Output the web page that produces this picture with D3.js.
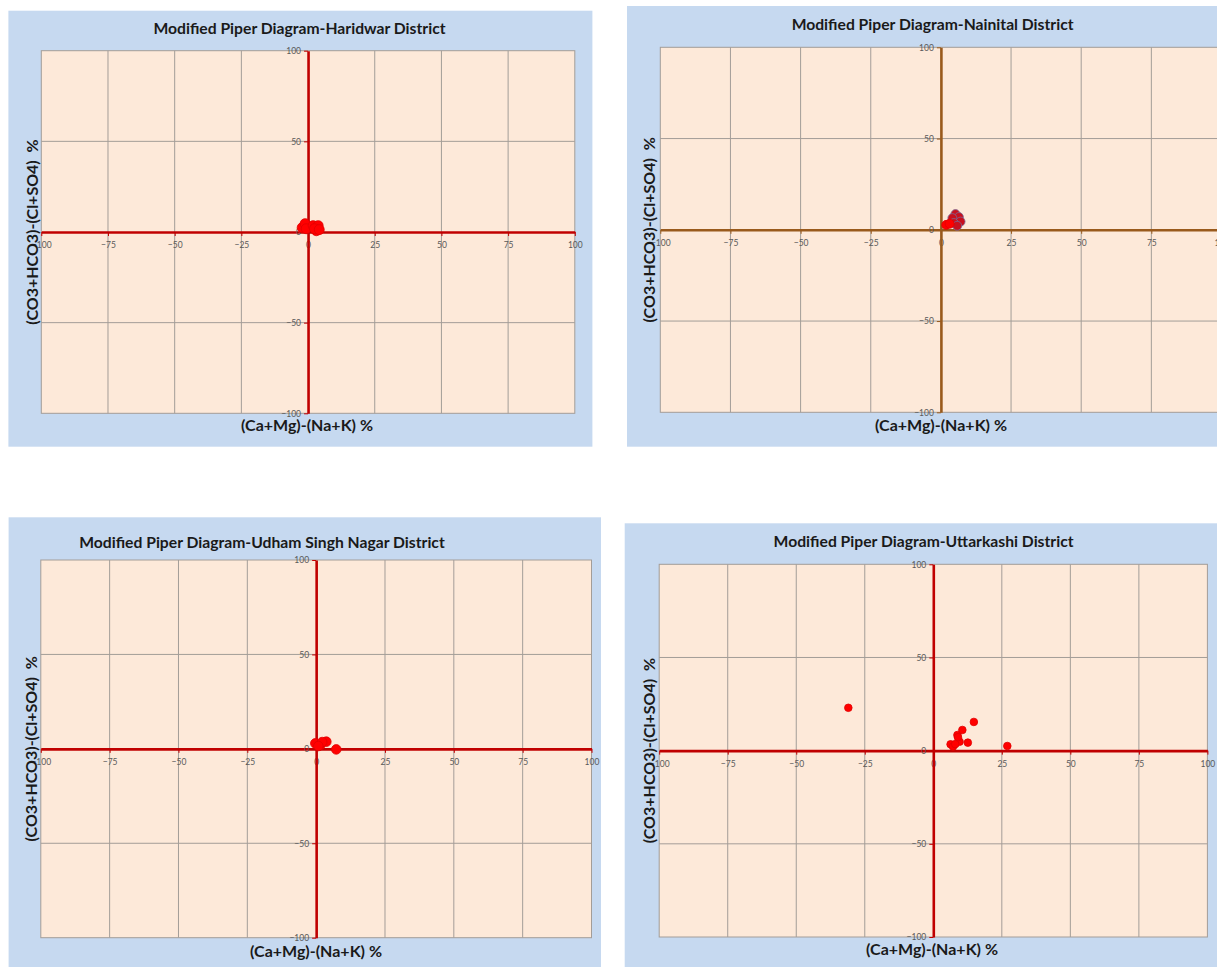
<!DOCTYPE html>
<html>
<head>
<meta charset="utf-8">
<script src="https://cdn.jsdelivr.net/npm/d3@7"></script>
<style>
  body { margin: 0; background: #fff; }
  svg { display: block; }
</style>
</head>
<body>
<div class="canva"></div>
<script>
// tick values shared by all four diagrams
const xTicks = [-100, -75, -50, -25, 0, 25, 50, 75, 100]
const yTicks = [-100, -50, 0, 50, 100]

// sample values, (Ca+Mg)-(Na+K) and (CO3+HCO3)-(Cl+SO4)
const haridwarX = [-2.2, -1.1, -0.7, 1.9, 3.8, 3.1, 2.4, 4.2]
const haridwarY = [2.4, 4.6, 1.8, 3.5, 3.5, 0.7, 1.8, 1.3]

const nainitalX = [5.2, 6.4, 4.1, 7.0, 4.6, 5.8]
const nainitalY = [8.6, 7.0, 6.4, 4.5, 3.7, 2.2]
const nainitalX2 = [1.9, 3.1]
const nainitalY2 = [2.7, 3.3]

const udhamX = [-0.3, 1.5, 3.7, 2.2, 0.8, 7.3]
const udhamY = [2.9, 2.0, 3.8, 3.6, 1.5, -0.3]

const uttarkashiX = [-31, 6.3, 7.2, 8.8, 10.6, 12.6, 14.8, 27, 9.6, 9.0, 8.0]
const uttarkashiY = [23, 3.4, 2.2, 8.4, 11.1, 4.3, 15.4, 2.5, 4.8, 7.2, 3.5]

const titles = [
  'Modified Piper Diagram-Haridwar District',
  'Modified Piper Diagram-Nainital District',
  'Modified Piper Diagram-Udham Singh Nagar District',
  'Modified Piper Diagram-Uttarkashi District'
]
const xLabel = '(Ca+Mg)-(Na+K) %'
const yLabel = '(CO3+HCO3)-(Cl+SO4)\u00a0 %'

const width = 1217
const height = 967

const svg = d3.select('.canva').append('svg')
              .attr('width', width)
              .attr('height', height)

const red = '#c00000'
const brown = '#995a1c'

const panels = [
  {
    bg: {x: 8.4, y: 10.7, w: 584, h: 436},
    plot: {l: 41.3, r: 574.8, t: 50.7, b: 413.3},
    title: {x: 299.5, y: 34}, xlab: {x: 307, y: 431}, ylab: {x: 32},
    axisColor: red,
    series: [{xs: haridwarX, ys: haridwarY, fill: '#ff0000', stroke: '#e00000', r: 5}]
  },
  {
    bg: {x: 627, y: 6, w: 620, h: 440.7},
    plot: {l: 660.3, r: 1221.5, t: 47.3, b: 412.3},
    title: {x: 932.6, y: 30}, xlab: {x: 941, y: 431}, ylab: {x: 648.7},
    axisColor: brown,
    series: [
      {xs: nainitalX, ys: nainitalY, fill: '#c8101e', stroke: '#7a6a96', r: 4.5},
      {xs: nainitalX2, ys: nainitalY2, fill: '#ff0000', stroke: '#e00000', r: 4.5}
    ]
  },
  {
    bg: {x: 8.6, y: 517.3, w: 592.4, h: 460},
    plot: {l: 40.8, r: 591.5, t: 560, b: 937.7},
    title: {x: 262, y: 548}, xlab: {x: 316, y: 957}, ylab: {x: 31},
    axisColor: red,
    series: [{xs: udhamX, ys: udhamY, fill: '#ff0000', stroke: '#e00000', r: 4.8}]
  },
  {
    bg: {x: 624.7, y: 523.3, w: 620, h: 460},
    plot: {l: 659.2, r: 1207.4, t: 564.3, b: 937},
    title: {x: 923.6, y: 547}, xlab: {x: 932, y: 955}, ylab: {x: 648.7},
    axisColor: red,
    series: [{xs: uttarkashiX, ys: uttarkashiY, fill: '#ff0000', stroke: '#e00000', r: 3.8}]
  }
]

panels.forEach((p, i) => drawPanel(p, titles[i]))

function drawPanel(p, title){
  const g = svg.append('g')

  // chart area
  g.append('rect')
    .attr('x', p.bg.x).attr('y', p.bg.y)
    .attr('width', p.bg.w).attr('height', p.bg.h)
    .attr('fill', '#c6d9f0')

  const x = d3.scaleLinear().domain([-100, 100]).range([p.plot.l, p.plot.r])
  const y = d3.scaleLinear().domain([-100, 100]).range([p.plot.b, p.plot.t])

  // plot area
  g.append('rect')
    .attr('x', p.plot.l).attr('y', p.plot.t)
    .attr('width', p.plot.r - p.plot.l).attr('height', p.plot.b - p.plot.t)
    .attr('fill', '#fde9d9')
    .attr('stroke', '#a39d98')
    .attr('stroke-width', 1)

  // gridlines
  g.append('g').selectAll('line')
    .data(xTicks.filter(d => d !== 0 && Math.abs(d) !== 100))
    .enter().append('line')
      .attr('x1', d => x(d)).attr('x2', d => x(d))
      .attr('y1', p.plot.t).attr('y2', p.plot.b)
      .attr('stroke', '#a39d98').attr('stroke-width', 1)

  g.append('g').selectAll('line')
    .data(yTicks.filter(d => d !== 0 && Math.abs(d) !== 100))
    .enter().append('line')
      .attr('x1', p.plot.l).attr('x2', p.plot.r)
      .attr('y1', d => y(d)).attr('y2', d => y(d))
      .attr('stroke', '#a39d98').attr('stroke-width', 1)

  // axes crossing at zero
  const xAxis = g.append('g')
    .attr('transform', `translate(0,${y(0)})`)
    .call(d3.axisBottom(x).tickValues(xTicks).tickFormat(d3.format('d'))
            .tickSizeInner(4).tickSizeOuter(0).tickPadding(6))
  const yAxis = g.append('g')
    .attr('transform', `translate(${x(0)},0)`)
    .call(d3.axisLeft(y).tickValues(yTicks).tickFormat(d3.format('d'))
            .tickSizeInner(4).tickSizeOuter(0).tickPadding(3))

  ;[xAxis, yAxis].forEach(a => {
    a.select('.domain').attr('stroke', p.axisColor).attr('stroke-width', 2.6)
    a.selectAll('.tick line').attr('stroke', p.axisColor).attr('stroke-width', 1)
    a.selectAll('.tick text')
      .attr('fill', '#595959')
      .style('font-family', 'Lato, "Liberation Sans", sans-serif')
      .style('font-size', '8.5px')
  })

  // points
  p.series.forEach(s => {
    g.append('g').selectAll('circle')
      .data(s.xs.map((d, k) => [d, s.ys[k]]))
      .enter().append('circle')
        .attr('cx', d => x(d[0]))
        .attr('cy', d => y(d[1]))
        .attr('r', s.r)
        .attr('fill', s.fill)
        .attr('stroke', s.stroke)
        .attr('stroke-width', 0.8)
  })

  // texts
  g.append('text')
    .attr('x', p.title.x).attr('y', p.title.y)
    .attr('text-anchor', 'middle')
    .style('font-family', 'Lato, "Open Sans", sans-serif')
    .style('font-weight', 'bold')
    .style('font-size', '15.7px')
    .attr('fill', '#1a1a1a')
    .text(title)

  g.append('text')
    .attr('x', p.xlab.x).attr('y', p.xlab.y)
    .attr('text-anchor', 'middle')
    .style('font-family', 'Lato, "Open Sans", sans-serif')
    .style('font-weight', 'bold')
    .style('font-size', '16px')
    .attr('fill', '#1a1a1a')
    .text(xLabel)

  const cy = y(0)
  g.append('text')
    .attr('transform', `translate(${p.ylab.x + 6},${cy}) rotate(-90)`)
    .attr('text-anchor', 'middle')
    .style('font-family', 'Lato, "Open Sans", sans-serif')
    .style('font-weight', 'bold')
    .style('font-size', '16px')
    .attr('fill', '#1a1a1a')
    .text(yLabel)
}
</script>
</body>
</html>
